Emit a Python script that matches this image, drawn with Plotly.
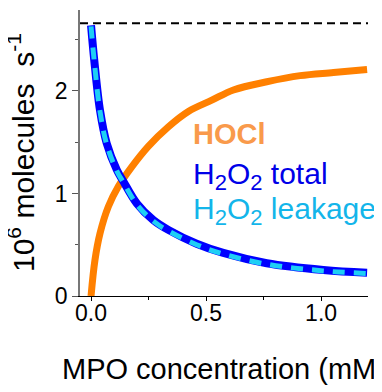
import plotly.graph_objects as go

# MPO concentration (mM)
mpo_total = [0.0, 0.014, 0.039, 0.068, 0.112, 0.14, 0.2, 0.271, 0.336, 0.459, 0.575, 0.764, 1.01, 1.2]
h2o2_total = [2.64, 2.30, 1.81, 1.49, 1.23, 1.12, 0.90, 0.74, 0.645, 0.51, 0.42, 0.32, 0.254, 0.227]
h2o2_leak = [2.63, 2.29, 1.80, 1.48, 1.22, 1.11, 0.89, 0.73, 0.635, 0.50, 0.41, 0.31, 0.245, 0.22]

mpo_hocl = [0.0, 0.017, 0.039, 0.075, 0.119, 0.177, 0.249, 0.336, 0.423, 0.525, 0.619, 0.764, 0.909, 1.054, 1.2]
hocl = [0.0, 0.35, 0.61, 0.87, 1.07, 1.26, 1.46, 1.65, 1.80, 1.91, 2.01, 2.09, 2.15, 2.18, 2.21]

max_rate = 2.66
x_ticks = [0.0, 0.5, 1.0]
x_ticklabels = ["0.0", "0.5", "1.0"]
y_ticks = [0, 1, 2]

FONT = "Arial, Liberation Sans, sans-serif"
SUB = "<sub><span style='font-size:22px'>2</span></sub>"

fig = go.Figure()
fig.add_trace(go.Scatter(x=mpo_hocl, y=hocl, mode="lines", line=dict(color="#FF8000", width=7, shape="spline")))
fig.add_trace(go.Scatter(x=mpo_total, y=h2o2_total, mode="lines", line=dict(color="#0000FF", width=8, shape="spline")))
fig.add_trace(go.Scatter(x=mpo_total, y=h2o2_leak, mode="lines", line=dict(color="#1ECFF5", width=5, dash="12px,9px", shape="spline")))

fig.add_shape(type="line", xref="paper", x0=0, x1=1, yref="y", y0=max_rate, y1=max_rate,
              line=dict(color="black", width=2, dash="8px,5px"))

fig.add_annotation(text="<b>HOCl</b>", xref="paper", yref="paper", x=0.385, y=0.568, xanchor="left", yanchor="middle",
                   showarrow=False, font=dict(family=FONT, size=29, color="#F99A4B"))
fig.add_annotation(text="H" + SUB + "O" + SUB + " total", xref="paper", yref="paper", x=0.385, y=0.418, xanchor="left", yanchor="middle",
                   showarrow=False, font=dict(family=FONT, size=30, color="#0000E8"))
fig.add_annotation(text="H" + SUB + "O" + SUB + " leakage", xref="paper", yref="paper", x=0.385, y=0.298, xanchor="left", yanchor="middle",
                   showarrow=False, font=dict(family=FONT, size=30, color="#13B5EA"))

fig.add_annotation(text="MPO concentration (mM)", xref="paper", yref="paper", x=0.5, y=0, xanchor="center", yanchor="top",
                   yshift=-55, showarrow=False, font=dict(family=FONT, size=29, color="black"))
fig.add_annotation(text="10<sup>6</sup> molecules  s<sup>-1</sup>", xref="paper", yref="paper", x=0, y=0.5, xanchor="right", yanchor="middle",
                   xshift=-38, textangle=-90, showarrow=False, font=dict(family=FONT, size=30, color="black"))

fig.update_layout(
    width=374, height=384,
    margin=dict(l=72, r=14, t=2, b=96),
    paper_bgcolor="white", plot_bgcolor="white",
    showlegend=False,
    font=dict(family=FONT, size=23, color="black"),
)
fig.update_xaxes(range=[-0.048, 1.204], tickvals=x_ticks, ticktext=x_ticklabels, ticks="outside", ticklen=4,
                 ticklabelstandoff=-8,
                 tickwidth=1, tickcolor="black", showline=True, linecolor="black", linewidth=1,
                 showgrid=False, zeroline=False,
                 minor=dict(tickvals=[0.25, 0.75], ticks="outside", ticklen=3, tickcolor="black"))
fig.update_yaxes(range=[0, 2.79], tickvals=y_ticks, ticks="outside", ticklen=6, tickwidth=1, tickcolor="#555",
                 showline=True, linecolor="#777", linewidth=1.5, showgrid=False, zeroline=False,
                 minor=dict(tickvals=[0.5, 1.5, 2.5], ticks="outside", ticklen=3, tickcolor="#555"))

fig.write_html("out.html")
